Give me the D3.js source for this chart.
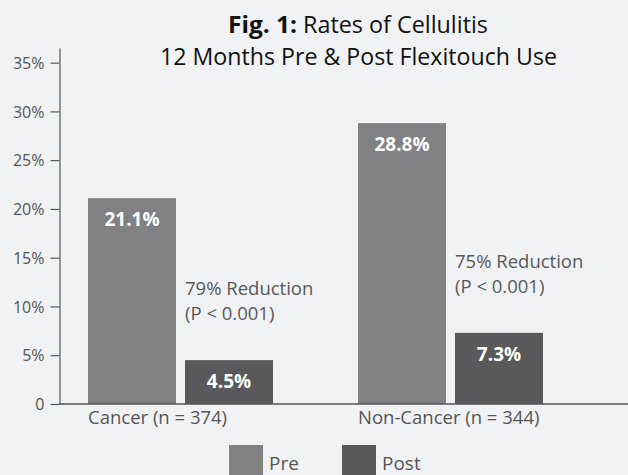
<!DOCTYPE html>
<html>
<head>
<meta charset="utf-8">
<script src="https://cdn.jsdelivr.net/npm/d3@7"></script>
<style>
  body { margin: 0; background: #f1f2f4; }
  svg { display: block; font-family: "Open Sans", sans-serif; }
</style>
</head>
<body>
<div id="canvas"></div>
<script>
// data
var categories = ['Cancer (n = 374)', 'Non-Cancer (n = 344)'];
var series = ['Pre', 'Post'];
var preValues = [21.1, 28.8];
var postValues = [4.5, 7.3];
var reductions = ['79% Reduction', '75% Reduction'];
var pValues = ['(P < 0.001)', '(P < 0.001)'];
var tickValues = [0, 5, 10, 15, 20, 25, 30, 35];

var W = 628, H = 475;
var colors = { Pre: '#818184', Post: '#59595b' };

var svg = d3.select('#canvas').append('svg')
    .attr('width', W)
    .attr('height', H);

// scales
var y = d3.scaleLinear().domain([0, 36.5]).range([404, 48]);
var x0 = d3.scaleBand().domain(categories).range([88, 628]).padding(0);
var x1 = d3.scaleBand().domain(series).range([0, 185]).paddingInner(0.0928).paddingOuter(0);

// title - squeezed to mimic the condensed face of the original
var title = svg.append('g').attr('fill', '#111').style('font-size', '24px');
title.append('text').attr('x', 228).attr('y', 33)
    .attr('font-weight', 'bold')
    .attr('textLength', 69).attr('lengthAdjust', 'spacingAndGlyphs')
    .text('Fig. 1:');
title.append('text').attr('x', 303).attr('y', 33)
    .attr('textLength', 185).attr('lengthAdjust', 'spacingAndGlyphs')
    .text('Rates of Cellulitis');
title.append('text').attr('x', 160).attr('y', 65)
    .attr('textLength', 397).attr('lengthAdjust', 'spacingAndGlyphs')
    .text('12 Months Pre & Post Flexitouch Use');

// y axis
var yAxis = d3.axisLeft(y)
    .tickValues(tickValues)
    .tickSize(9)
    .tickSizeOuter(0)
    .tickPadding(6)
    .tickFormat(function(d){ return d === 0 ? '0' : d + '%'; });

var ya = svg.append('g').attr('transform', 'translate(59.5,0)').call(yAxis);
ya.attr('font-family', null).attr('font-size', null);
ya.select('.domain').attr('stroke', '#555').attr('stroke-width', 1.2);
ya.selectAll('.tick line').attr('stroke', '#555').attr('stroke-width', 1.2);
ya.selectAll('.tick text').attr('fill', '#555').style('font-size', '16px')
    .attr('dy', '0.35em');

// bars
var rows = categories.map(function(c, i){
    return [{cat: c, key: 'Pre', v: preValues[i]}, {cat: c, key: 'Post', v: postValues[i]}];
});

var groups = svg.selectAll('.group')
    .data(rows)
    .enter().append('g').attr('class', 'group')
    .attr('transform', function(d){ return 'translate(' + x0(d[0].cat) + ',0)'; });

groups.selectAll('rect')
    .data(function(d){ return d; })
    .enter().append('rect')
    .attr('x', function(d){ return x1(d.key); })
    .attr('y', function(d){ return y(d.v); })
    .attr('width', x1.bandwidth())
    .attr('height', function(d){ return y(0) - y(d.v); })
    .attr('fill', function(d){ return colors[d.key]; });

groups.selectAll('.val')
    .data(function(d){ return d; })
    .enter().append('text').attr('class', 'val')
    .attr('x', function(d){ return x1(d.key) + x1.bandwidth() / 2; })
    .attr('y', function(d){ return y(d.v) + 28; })
    .attr('text-anchor', 'middle')
    .attr('fill', '#fff')
    .attr('font-weight', 'bold')
    .style('font-size', '19px')
    .text(function(d){ return d.v.toFixed(1) + '%'; });

// reduction notes, sitting above the post bar
groups.append('text')
    .attr('y', function(d){ return y(d[1].v) - 65; })
    .attr('fill', '#58585a')
    .style('font-size', '18.5px')
    .each(function(d, i){
        var t = d3.select(this);
        t.append('tspan').attr('x', x1('Post')).text(reductions[i]);
        t.append('tspan').attr('x', x1('Post')).attr('dy', 25).text(pValues[i]);
    });

// baseline
svg.append('line')
    .attr('x1', 59).attr('x2', W)
    .attr('y1', y(0)).attr('y2', y(0))
    .attr('stroke', '#555').attr('stroke-width', 1.5);

// category labels
groups.append('text')
    .attr('x', 0)
    .attr('y', 424)
    .attr('fill', '#555')
    .style('font-size', '18.5px')
    .text(function(d){ return d[0].cat; });

// legend
var legend = svg.selectAll('.legend')
    .data(series)
    .enter().append('g').attr('class', 'legend')
    .attr('transform', function(d, i){ return 'translate(' + (229 + i * 113) + ',445)'; });

legend.append('rect').attr('width', 34).attr('height', 30)
    .attr('fill', function(d){ return colors[d]; });
legend.append('text').attr('x', 40).attr('y', 25)
    .attr('fill', '#555').style('font-size', '19px')
    .text(function(d){ return d; });
</script>
</body>
</html>
